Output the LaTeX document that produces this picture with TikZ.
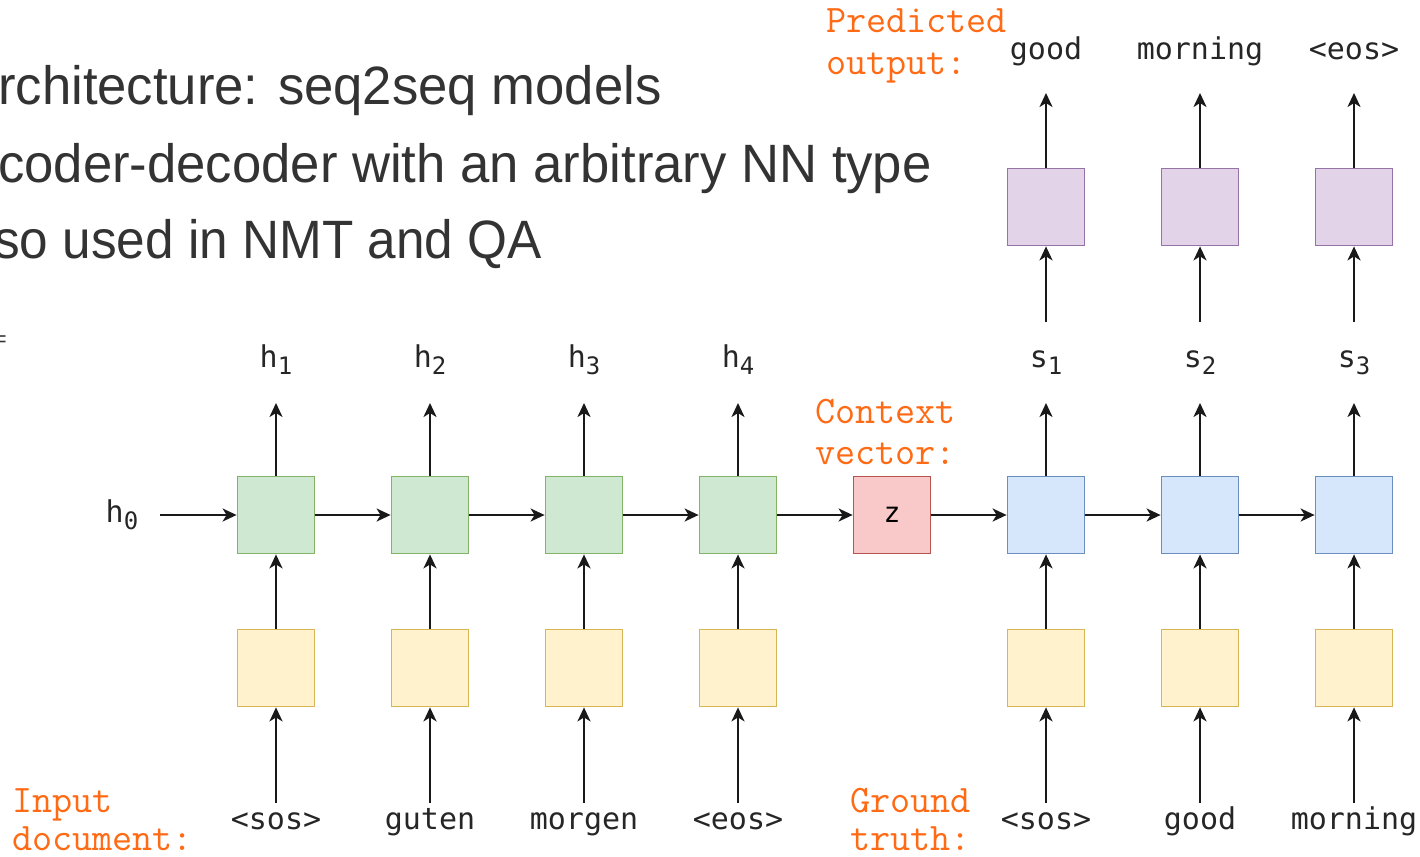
\documentclass[tikz,border=0pt]{standalone}
\usepackage{fontspec}
\setmainfont{Liberation Sans}
\newfontfamily\monof{DejaVu Sans Mono}
\usetikzlibrary{arrows.meta}
\definecolor{gfill}{HTML}{CFE8D1}\definecolor{gline}{HTML}{82B366}
\definecolor{yfill}{HTML}{FFF2CC}\definecolor{yline}{HTML}{D6B656}
\definecolor{bfill}{HTML}{D6E6FB}\definecolor{bline}{HTML}{6C8EBF}
\definecolor{pfill}{HTML}{E3D3E8}\definecolor{pline}{HTML}{9673A6}
\definecolor{rfill}{HTML}{F9C8C8}\definecolor{rline}{HTML}{B85450}
\definecolor{orng}{HTML}{FF6A14}
\definecolor{txt}{HTML}{333333}
\newcommand{\sbs}[2]{{\monof #1}{\monof\fontsize{24}{24}\selectfont\raisebox{-7pt}{#2}}}
\begin{document}
\begin{tikzpicture}[x=1pt,y=-1pt,
  cell/.style={draw, line width=1.8pt, minimum width=77pt, minimum height=77pt, inner sep=0pt},
  enc/.style={cell, fill=gfill, draw=gline},
  emb/.style={cell, fill=yfill, draw=yline},
  dec/.style={cell, fill=bfill, draw=bline},
  outc/.style={cell, fill=pfill, draw=pline},
  ctx/.style={cell, fill=rfill, draw=rline, font=\monof\fontsize{28}{28}\selectfont},
  conn/.style={line width=2.2pt, draw=black!90, -{Stealth[length=14pt,width=13pt,inset=4pt]}},
  word/.style={font=\monof\fontsize{30}{30}\selectfont, inner sep=0pt, anchor=base, text=black!85},
  orange/.style={font=\ttfamily\fontsize{39}{39}\selectfont, text=orng, inner sep=0pt, anchor=base west},
  bullet/.style={font=\fontsize{54}{54}\selectfont, text=txt, inner sep=0pt, anchor=base west}
]
\clip (0,0) rectangle (1420,856);
\fill[white] (0,0) rectangle (1420,856);

% slide text
\node[bullet] (b1) at (-2,105) {\scalebox{0.975}[1]{rchitecture: seq2seq models}};
\node[bullet] (b2) at (-2,182) {\scalebox{0.975}[1]{coder-decoder with an arbitrary NN type}};
\node[bullet] (b3) at (-6,258) {\scalebox{0.95}[1]{so used in NMT and QA}};
\node[font=\fontsize{22}{22}\selectfont, text=txt, inner sep=0pt, anchor=east] (eq) at (7,341) {=};

% boxes
\foreach \i/\x in {1/276,2/430,3/584,4/738}{
  \node[enc] (e\i) at (\x,515) {};
  \node[emb] (ye\i) at (\x,668) {};
}
\node[ctx] (z) at (892,515) {z};
\foreach \i/\x in {1/1046,2/1200,3/1354}{
  \node[dec] (d\i) at (\x,515) {};
  \node[emb] (yd\i) at (\x,668) {};
  \node[outc] (p\i) at (\x,207) {};
}

% labels
\node[word] (h0) at (122,522) {\sbs{h}{0}};
\coordinate (h0e) at (160,515);
\foreach \i/\x in {1/276,2/430,3/584,4/738}{
  \node[word] (h\i) at (\x,367) {\sbs{h}{\i}};
  \coordinate (he\i) at (\x,403);
}
\foreach \i/\x in {1/1046,2/1200,3/1354}{
  \node[word] (s\i) at (\x,367) {\sbs{s}{\i}};
  \coordinate (se\i) at (\x,403);
  \coordinate (ss\i) at (\x,322);
  \coordinate (oe\i) at (\x,93);
}
\node[word] (w1) at (276,829) {<sos>};
\node[word] (w2) at (430,829) {guten};
\node[word] (w3) at (584,829) {morgen};
\node[word] (w4) at (738,829) {<eos>};
\node[word] (g1) at (1046,829) {<sos>};
\node[word] (g2) at (1200,829) {good};
\node[word] (g3) at (1354,829) {morning};
\foreach \i/\x in {1/276,2/430,3/584,4/738}{\coordinate (ws\i) at (\x,803);}
\foreach \i/\x in {1/1046,2/1200,3/1354}{\coordinate (gs\i) at (\x,803);}
\node[word] (o1) at (1046,60) {good};
\node[word] (o2) at (1200,60) {morning};
\node[word] (o3) at (1354,60) {<eos>};

\node[orange] (pr1) at (826,33) {Predicted};
\node[orange] (pr2) at (826,75) {output:};
\node[orange] (cv1) at (815,423) {Context};
\node[orange] (cv2) at (815,464) {vector:};
\node[orange] (in1) at (12,812) {Input};
\node[orange] (in2) at (12,850) {document:};
\node[orange] (gt1) at (850,812) {Ground};
\node[orange] (gt2) at (850,850) {truth:};

% connectors
\draw[conn] (h0e) -- (e1.west);
\draw[conn] (e1) -- (e2);
\draw[conn] (e2) -- (e3);
\draw[conn] (e3) -- (e4);
\draw[conn] (e4) -- (z);
\draw[conn] (z) -- (d1);
\draw[conn] (d1) -- (d2);
\draw[conn] (d2) -- (d3);
\foreach \i in {1,2,3,4}{
  \draw[conn] (ws\i) -- (ye\i.south);
  \draw[conn] (ye\i) -- (e\i);
  \draw[conn] (e\i.north) -- (he\i);
}
\foreach \i in {1,2,3}{
  \draw[conn] (gs\i) -- (yd\i.south);
  \draw[conn] (yd\i) -- (d\i);
  \draw[conn] (d\i.north) -- (se\i);
  \draw[conn] (ss\i) -- (p\i.south);
  \draw[conn] (p\i.north) -- (oe\i);
}
\end{tikzpicture}
\end{document}
